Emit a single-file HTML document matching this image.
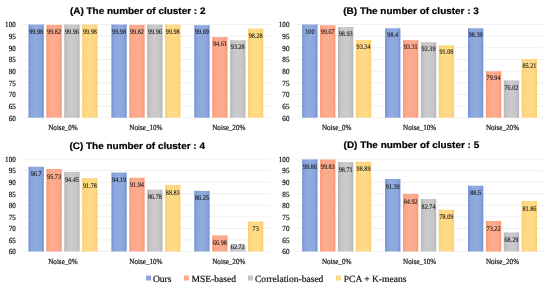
<!DOCTYPE html>
<html><head><meta charset="utf-8"><style>
html,body{margin:0;padding:0;background:#fff;}
svg{display:block;will-change:transform;}
text{text-rendering:geometricPrecision;}
.t{font-family:"Liberation Sans",sans-serif;font-weight:bold;font-size:9.4px;fill:#000;stroke:#000;stroke-width:0.2px;}
.v{font-family:"Liberation Serif",serif;font-size:7.2px;fill:#111;stroke:#111;stroke-width:0.1px;}
.y{font-family:"Liberation Serif",serif;font-size:7.8px;fill:#111;stroke:#111;stroke-width:0.2px;}
.c{font-family:"Liberation Serif",serif;font-size:7.8px;fill:#111;stroke:#111;stroke-width:0.2px;}
.l{font-family:"Liberation Serif",serif;font-size:9.55px;fill:#111;stroke:#111;stroke-width:0.2px;}
</style></head><body>
<svg width="550" height="289" viewBox="0 0 550 289">
<defs>
<linearGradient id="gb" x1="0" x2="1" y1="0" y2="0"><stop offset="0" stop-color="#6e8fd2"/><stop offset="0.08" stop-color="#7c9ad7"/><stop offset="0.2" stop-color="#8ba6dc"/><stop offset="0.5" stop-color="#91abde"/><stop offset="0.8" stop-color="#8ba6dc"/><stop offset="0.92" stop-color="#7c9ad7"/><stop offset="1" stop-color="#6e8fd2"/></linearGradient>
<linearGradient id="go" x1="0" x2="1" y1="0" y2="0"><stop offset="0" stop-color="#f8946f"/><stop offset="0.08" stop-color="#fb9f7e"/><stop offset="0.2" stop-color="#fca88b"/><stop offset="0.5" stop-color="#fdac90"/><stop offset="0.8" stop-color="#fca88b"/><stop offset="0.92" stop-color="#fb9f7e"/><stop offset="1" stop-color="#f8946f"/></linearGradient>
<linearGradient id="gg" x1="0" x2="1" y1="0" y2="0"><stop offset="0" stop-color="#b3b3b3"/><stop offset="0.08" stop-color="#bdbdbd"/><stop offset="0.2" stop-color="#c6c6c6"/><stop offset="0.5" stop-color="#cbcbcb"/><stop offset="0.8" stop-color="#c6c6c6"/><stop offset="0.92" stop-color="#bdbdbd"/><stop offset="1" stop-color="#b3b3b3"/></linearGradient>
<linearGradient id="gy" x1="0" x2="1" y1="0" y2="0"><stop offset="0" stop-color="#fccc6a"/><stop offset="0.08" stop-color="#fdd377"/><stop offset="0.2" stop-color="#ffd882"/><stop offset="0.5" stop-color="#ffdb88"/><stop offset="0.8" stop-color="#ffd882"/><stop offset="0.92" stop-color="#fdd377"/><stop offset="1" stop-color="#fccc6a"/></linearGradient>
</defs>
<rect width="550" height="289" fill="#fff"/>

<rect x="21.55" y="24.00" width="248.70" height="1" fill="#f0f0f0"/>
<text class="y" transform="translate(15.75,27.30) scale(0.91,1)" text-anchor="end">100</text>
<rect x="21.55" y="35.65" width="248.70" height="1" fill="#f0f0f0"/>
<text class="y" transform="translate(15.75,38.95) scale(0.91,1)" text-anchor="end">95</text>
<rect x="21.55" y="47.30" width="248.70" height="1" fill="#f0f0f0"/>
<text class="y" transform="translate(15.75,50.60) scale(0.91,1)" text-anchor="end">90</text>
<rect x="21.55" y="58.95" width="248.70" height="1" fill="#f0f0f0"/>
<text class="y" transform="translate(15.75,62.25) scale(0.91,1)" text-anchor="end">85</text>
<rect x="21.55" y="70.60" width="248.70" height="1" fill="#f0f0f0"/>
<text class="y" transform="translate(15.75,73.90) scale(0.91,1)" text-anchor="end">80</text>
<rect x="21.55" y="82.25" width="248.70" height="1" fill="#f0f0f0"/>
<text class="y" transform="translate(15.75,85.55) scale(0.91,1)" text-anchor="end">75</text>
<rect x="21.55" y="93.90" width="248.70" height="1" fill="#f0f0f0"/>
<text class="y" transform="translate(15.75,97.20) scale(0.91,1)" text-anchor="end">70</text>
<rect x="21.55" y="105.55" width="248.70" height="1" fill="#f0f0f0"/>
<text class="y" transform="translate(15.75,108.85) scale(0.91,1)" text-anchor="end">65</text>
<rect x="21.55" y="117.20" width="248.70" height="1" fill="#f3f3f3"/>
<text class="y" transform="translate(15.75,120.50) scale(0.91,1)" text-anchor="end">60</text>
<text class="t" x="69.90" y="13.60" textLength="135.6" lengthAdjust="spacingAndGlyphs">(A) The number of cluster : 2</text>
<rect x="28.50" y="24.55" width="15.3" height="93.15" fill="url(#gb)"/>
<text class="v" transform="translate(36.15,33.75) scale(0.86,1)" text-anchor="middle">99.98</text>
<rect x="46.40" y="24.92" width="15.3" height="92.78" fill="url(#go)"/>
<text class="v" transform="translate(54.05,34.12) scale(0.86,1)" text-anchor="middle">99.82</text>
<rect x="64.30" y="24.59" width="15.3" height="93.11" fill="url(#gg)"/>
<text class="v" transform="translate(71.95,33.79) scale(0.86,1)" text-anchor="middle">99.96</text>
<rect x="82.20" y="24.55" width="15.3" height="93.15" fill="url(#gy)"/>
<text class="v" transform="translate(89.85,33.75) scale(0.86,1)" text-anchor="middle">99.98</text>
<text class="c" transform="translate(63.00,129.90) scale(0.91,1)" text-anchor="middle">Noise_0%</text>
<rect x="111.40" y="24.55" width="15.3" height="93.15" fill="url(#gb)"/>
<text class="v" transform="translate(119.05,33.75) scale(0.86,1)" text-anchor="middle">99.98</text>
<rect x="129.30" y="24.92" width="15.3" height="92.78" fill="url(#go)"/>
<text class="v" transform="translate(136.95,34.12) scale(0.86,1)" text-anchor="middle">99.82</text>
<rect x="147.20" y="24.59" width="15.3" height="93.11" fill="url(#gg)"/>
<text class="v" transform="translate(154.85,33.79) scale(0.86,1)" text-anchor="middle">99.96</text>
<rect x="165.10" y="24.55" width="15.3" height="93.15" fill="url(#gy)"/>
<text class="v" transform="translate(172.75,33.75) scale(0.86,1)" text-anchor="middle">99.98</text>
<text class="c" transform="translate(145.90,129.90) scale(0.91,1)" text-anchor="middle">Noise_10%</text>
<rect x="194.30" y="25.22" width="15.3" height="92.48" fill="url(#gb)"/>
<text class="v" transform="translate(201.95,34.42) scale(0.86,1)" text-anchor="middle">99.69</text>
<rect x="212.20" y="37.06" width="15.3" height="80.64" fill="url(#go)"/>
<text class="v" transform="translate(219.85,46.26) scale(0.86,1)" text-anchor="middle">94.61</text>
<rect x="230.10" y="40.16" width="15.3" height="77.54" fill="url(#gg)"/>
<text class="v" transform="translate(237.75,49.36) scale(0.86,1)" text-anchor="middle">93.28</text>
<rect x="248.00" y="28.51" width="15.3" height="89.19" fill="url(#gy)"/>
<text class="v" transform="translate(255.65,37.71) scale(0.86,1)" text-anchor="middle">98.28</text>
<text class="c" transform="translate(228.80,129.90) scale(0.91,1)" text-anchor="middle">Noise_20%</text>
<rect x="295.25" y="24.00" width="248.70" height="1" fill="#f0f0f0"/>
<text class="y" transform="translate(289.45,27.30) scale(0.91,1)" text-anchor="end">100</text>
<rect x="295.25" y="35.65" width="248.70" height="1" fill="#f0f0f0"/>
<text class="y" transform="translate(289.45,38.95) scale(0.91,1)" text-anchor="end">95</text>
<rect x="295.25" y="47.30" width="248.70" height="1" fill="#f0f0f0"/>
<text class="y" transform="translate(289.45,50.60) scale(0.91,1)" text-anchor="end">90</text>
<rect x="295.25" y="58.95" width="248.70" height="1" fill="#f0f0f0"/>
<text class="y" transform="translate(289.45,62.25) scale(0.91,1)" text-anchor="end">85</text>
<rect x="295.25" y="70.60" width="248.70" height="1" fill="#f0f0f0"/>
<text class="y" transform="translate(289.45,73.90) scale(0.91,1)" text-anchor="end">80</text>
<rect x="295.25" y="82.25" width="248.70" height="1" fill="#f0f0f0"/>
<text class="y" transform="translate(289.45,85.55) scale(0.91,1)" text-anchor="end">75</text>
<rect x="295.25" y="93.90" width="248.70" height="1" fill="#f0f0f0"/>
<text class="y" transform="translate(289.45,97.20) scale(0.91,1)" text-anchor="end">70</text>
<rect x="295.25" y="105.55" width="248.70" height="1" fill="#f0f0f0"/>
<text class="y" transform="translate(289.45,108.85) scale(0.91,1)" text-anchor="end">65</text>
<rect x="295.25" y="117.20" width="248.70" height="1" fill="#f3f3f3"/>
<text class="y" transform="translate(289.45,120.50) scale(0.91,1)" text-anchor="end">60</text>
<text class="t" x="343.30" y="13.70" textLength="135.6" lengthAdjust="spacingAndGlyphs">(B) The number of cluster : 3</text>
<rect x="302.20" y="24.50" width="15.3" height="93.20" fill="url(#gb)"/>
<text class="v" transform="translate(309.85,33.70) scale(0.86,1)" text-anchor="middle">100</text>
<rect x="320.10" y="25.27" width="15.3" height="92.43" fill="url(#go)"/>
<text class="v" transform="translate(327.75,34.47) scale(0.86,1)" text-anchor="middle">99.67</text>
<rect x="338.00" y="26.99" width="15.3" height="90.71" fill="url(#gg)"/>
<text class="v" transform="translate(345.65,36.19) scale(0.86,1)" text-anchor="middle">98.93</text>
<rect x="355.90" y="40.02" width="15.3" height="77.68" fill="url(#gy)"/>
<text class="v" transform="translate(363.55,49.22) scale(0.86,1)" text-anchor="middle">93.34</text>
<text class="c" transform="translate(336.70,129.90) scale(0.91,1)" text-anchor="middle">Noise_0%</text>
<rect x="385.10" y="28.23" width="15.3" height="89.47" fill="url(#gb)"/>
<text class="v" transform="translate(392.75,37.43) scale(0.86,1)" text-anchor="middle">98.4</text>
<rect x="403.00" y="40.09" width="15.3" height="77.61" fill="url(#go)"/>
<text class="v" transform="translate(410.65,49.29) scale(0.86,1)" text-anchor="middle">93.31</text>
<rect x="420.90" y="42.23" width="15.3" height="75.47" fill="url(#gg)"/>
<text class="v" transform="translate(428.55,51.43) scale(0.86,1)" text-anchor="middle">92.39</text>
<rect x="438.80" y="45.28" width="15.3" height="72.42" fill="url(#gy)"/>
<text class="v" transform="translate(446.45,54.48) scale(0.86,1)" text-anchor="middle">91.08</text>
<text class="c" transform="translate(419.60,129.90) scale(0.91,1)" text-anchor="middle">Noise_10%</text>
<rect x="468.00" y="28.25" width="15.3" height="89.45" fill="url(#gb)"/>
<text class="v" transform="translate(475.65,37.45) scale(0.86,1)" text-anchor="middle">98.39</text>
<rect x="485.90" y="71.24" width="15.3" height="46.46" fill="url(#go)"/>
<text class="v" transform="translate(493.55,80.44) scale(0.86,1)" text-anchor="middle">79.94</text>
<rect x="503.80" y="80.37" width="15.3" height="37.33" fill="url(#gg)"/>
<text class="v" transform="translate(511.45,89.57) scale(0.86,1)" text-anchor="middle">76.02</text>
<rect x="521.70" y="58.96" width="15.3" height="58.74" fill="url(#gy)"/>
<text class="v" transform="translate(529.35,68.16) scale(0.86,1)" text-anchor="middle">85.21</text>
<text class="c" transform="translate(502.50,129.90) scale(0.91,1)" text-anchor="middle">Noise_20%</text>
<rect x="21.55" y="158.60" width="248.70" height="1" fill="#f0f0f0"/>
<text class="y" transform="translate(15.75,161.90) scale(0.91,1)" text-anchor="end">100</text>
<rect x="21.55" y="170.15" width="248.70" height="1" fill="#f0f0f0"/>
<text class="y" transform="translate(15.75,173.45) scale(0.91,1)" text-anchor="end">95</text>
<rect x="21.55" y="181.70" width="248.70" height="1" fill="#f0f0f0"/>
<text class="y" transform="translate(15.75,185.00) scale(0.91,1)" text-anchor="end">90</text>
<rect x="21.55" y="193.25" width="248.70" height="1" fill="#f0f0f0"/>
<text class="y" transform="translate(15.75,196.55) scale(0.91,1)" text-anchor="end">85</text>
<rect x="21.55" y="204.80" width="248.70" height="1" fill="#f0f0f0"/>
<text class="y" transform="translate(15.75,208.10) scale(0.91,1)" text-anchor="end">80</text>
<rect x="21.55" y="216.35" width="248.70" height="1" fill="#f0f0f0"/>
<text class="y" transform="translate(15.75,219.65) scale(0.91,1)" text-anchor="end">75</text>
<rect x="21.55" y="227.90" width="248.70" height="1" fill="#f0f0f0"/>
<text class="y" transform="translate(15.75,231.20) scale(0.91,1)" text-anchor="end">70</text>
<rect x="21.55" y="239.45" width="248.70" height="1" fill="#f0f0f0"/>
<text class="y" transform="translate(15.75,242.75) scale(0.91,1)" text-anchor="end">65</text>
<rect x="21.55" y="251.00" width="248.70" height="1" fill="#f3f3f3"/>
<text class="y" transform="translate(15.75,254.30) scale(0.91,1)" text-anchor="end">60</text>
<text class="t" x="69.40" y="148.50" textLength="135.6" lengthAdjust="spacingAndGlyphs">(C) The number of cluster : 4</text>
<rect x="28.50" y="166.72" width="15.3" height="84.78" fill="url(#gb)"/>
<text class="v" transform="translate(36.15,176.32) scale(0.86,1)" text-anchor="middle">96.7</text>
<rect x="46.40" y="168.96" width="15.3" height="82.54" fill="url(#go)"/>
<text class="v" transform="translate(54.05,178.56) scale(0.86,1)" text-anchor="middle">95.73</text>
<rect x="64.30" y="171.92" width="15.3" height="79.58" fill="url(#gg)"/>
<text class="v" transform="translate(71.95,181.52) scale(0.86,1)" text-anchor="middle">94.45</text>
<rect x="82.20" y="178.09" width="15.3" height="73.41" fill="url(#gy)"/>
<text class="v" transform="translate(89.85,187.69) scale(0.86,1)" text-anchor="middle">91.78</text>
<text class="c" transform="translate(63.00,263.70) scale(0.91,1)" text-anchor="middle">Noise_0%</text>
<rect x="111.40" y="172.52" width="15.3" height="78.98" fill="url(#gb)"/>
<text class="v" transform="translate(119.05,182.12) scale(0.86,1)" text-anchor="middle">94.19</text>
<rect x="129.30" y="177.72" width="15.3" height="73.78" fill="url(#go)"/>
<text class="v" transform="translate(136.95,187.32) scale(0.86,1)" text-anchor="middle">91.94</text>
<rect x="147.20" y="189.64" width="15.3" height="61.86" fill="url(#gg)"/>
<text class="v" transform="translate(154.85,199.24) scale(0.86,1)" text-anchor="middle">86.78</text>
<rect x="165.10" y="184.90" width="15.3" height="66.60" fill="url(#gy)"/>
<text class="v" transform="translate(172.75,194.50) scale(0.86,1)" text-anchor="middle">88.83</text>
<text class="c" transform="translate(145.90,263.70) scale(0.91,1)" text-anchor="middle">Noise_10%</text>
<rect x="194.30" y="190.86" width="15.3" height="60.64" fill="url(#gb)"/>
<text class="v" transform="translate(201.95,200.46) scale(0.86,1)" text-anchor="middle">86.25</text>
<rect x="212.20" y="235.38" width="15.3" height="16.12" fill="url(#go)"/>
<text class="v" transform="translate(219.85,244.98) scale(0.86,1)" text-anchor="middle">66.98</text>
<rect x="230.10" y="245.22" width="15.3" height="6.28" fill="url(#gg)"/>
<text class="v" transform="translate(237.75,249.40) scale(0.86,1)" text-anchor="middle">62.72</text>
<rect x="248.00" y="221.47" width="15.3" height="30.03" fill="url(#gy)"/>
<text class="v" transform="translate(255.65,231.07) scale(0.86,1)" text-anchor="middle">73</text>
<text class="c" transform="translate(228.80,263.70) scale(0.91,1)" text-anchor="middle">Noise_20%</text>
<rect x="295.25" y="158.60" width="248.70" height="1" fill="#f0f0f0"/>
<text class="y" transform="translate(289.45,161.90) scale(0.91,1)" text-anchor="end">100</text>
<rect x="295.25" y="170.15" width="248.70" height="1" fill="#f0f0f0"/>
<text class="y" transform="translate(289.45,173.45) scale(0.91,1)" text-anchor="end">95</text>
<rect x="295.25" y="181.70" width="248.70" height="1" fill="#f0f0f0"/>
<text class="y" transform="translate(289.45,185.00) scale(0.91,1)" text-anchor="end">90</text>
<rect x="295.25" y="193.25" width="248.70" height="1" fill="#f0f0f0"/>
<text class="y" transform="translate(289.45,196.55) scale(0.91,1)" text-anchor="end">85</text>
<rect x="295.25" y="204.80" width="248.70" height="1" fill="#f0f0f0"/>
<text class="y" transform="translate(289.45,208.10) scale(0.91,1)" text-anchor="end">80</text>
<rect x="295.25" y="216.35" width="248.70" height="1" fill="#f0f0f0"/>
<text class="y" transform="translate(289.45,219.65) scale(0.91,1)" text-anchor="end">75</text>
<rect x="295.25" y="227.90" width="248.70" height="1" fill="#f0f0f0"/>
<text class="y" transform="translate(289.45,231.20) scale(0.91,1)" text-anchor="end">70</text>
<rect x="295.25" y="239.45" width="248.70" height="1" fill="#f0f0f0"/>
<text class="y" transform="translate(289.45,242.75) scale(0.91,1)" text-anchor="end">65</text>
<rect x="295.25" y="251.00" width="248.70" height="1" fill="#f3f3f3"/>
<text class="y" transform="translate(289.45,254.30) scale(0.91,1)" text-anchor="end">60</text>
<text class="t" x="343.60" y="148.40" textLength="135.6" lengthAdjust="spacingAndGlyphs">(D) The number of cluster : 5</text>
<rect x="302.20" y="159.42" width="15.3" height="92.08" fill="url(#gb)"/>
<text class="v" transform="translate(309.85,169.02) scale(0.86,1)" text-anchor="middle">99.86</text>
<rect x="320.10" y="159.49" width="15.3" height="92.01" fill="url(#go)"/>
<text class="v" transform="translate(327.75,169.09) scale(0.86,1)" text-anchor="middle">99.83</text>
<rect x="338.00" y="162.08" width="15.3" height="89.42" fill="url(#gg)"/>
<text class="v" transform="translate(345.65,171.68) scale(0.86,1)" text-anchor="middle">98.71</text>
<rect x="355.90" y="161.66" width="15.3" height="89.84" fill="url(#gy)"/>
<text class="v" transform="translate(363.55,171.26) scale(0.86,1)" text-anchor="middle">98.89</text>
<text class="c" transform="translate(336.70,263.70) scale(0.91,1)" text-anchor="middle">Noise_0%</text>
<rect x="385.10" y="178.99" width="15.3" height="72.51" fill="url(#gb)"/>
<text class="v" transform="translate(392.75,188.59) scale(0.86,1)" text-anchor="middle">91.39</text>
<rect x="403.00" y="193.93" width="15.3" height="57.57" fill="url(#go)"/>
<text class="v" transform="translate(410.65,203.53) scale(0.86,1)" text-anchor="middle">84.92</text>
<rect x="420.90" y="198.97" width="15.3" height="52.53" fill="url(#gg)"/>
<text class="v" transform="translate(428.55,208.57) scale(0.86,1)" text-anchor="middle">82.74</text>
<rect x="438.80" y="209.71" width="15.3" height="41.79" fill="url(#gy)"/>
<text class="v" transform="translate(446.45,219.31) scale(0.86,1)" text-anchor="middle">78.09</text>
<text class="c" transform="translate(419.60,263.70) scale(0.91,1)" text-anchor="middle">Noise_10%</text>
<rect x="468.00" y="185.66" width="15.3" height="65.84" fill="url(#gb)"/>
<text class="v" transform="translate(475.65,195.26) scale(0.86,1)" text-anchor="middle">88.5</text>
<rect x="485.90" y="220.96" width="15.3" height="30.54" fill="url(#go)"/>
<text class="v" transform="translate(493.55,230.56) scale(0.86,1)" text-anchor="middle">73.22</text>
<rect x="503.80" y="232.35" width="15.3" height="19.15" fill="url(#gg)"/>
<text class="v" transform="translate(511.45,241.95) scale(0.86,1)" text-anchor="middle">68.29</text>
<rect x="521.70" y="201.00" width="15.3" height="50.50" fill="url(#gy)"/>
<text class="v" transform="translate(529.35,210.60) scale(0.86,1)" text-anchor="middle">81.86</text>
<text class="c" transform="translate(502.50,263.70) scale(0.91,1)" text-anchor="middle">Noise_20%</text>
<rect x="146.20" y="275.5" width="4.8" height="5.0" fill="url(#gb)"/>
<text class="l" x="152.90" y="281.7">Ours</text>
<rect x="184.10" y="275.5" width="4.8" height="5.0" fill="url(#go)"/>
<text class="l" x="191.50" y="281.7">MSE-based</text>
<rect x="248.00" y="275.5" width="4.8" height="5.0" fill="url(#gg)"/>
<text class="l" x="255.00" y="281.7">Correlation-based</text>
<rect x="336.10" y="275.5" width="4.8" height="5.0" fill="url(#gy)"/>
<text class="l" x="343.75" y="281.7">PCA + K-means</text>
</svg></body></html>
